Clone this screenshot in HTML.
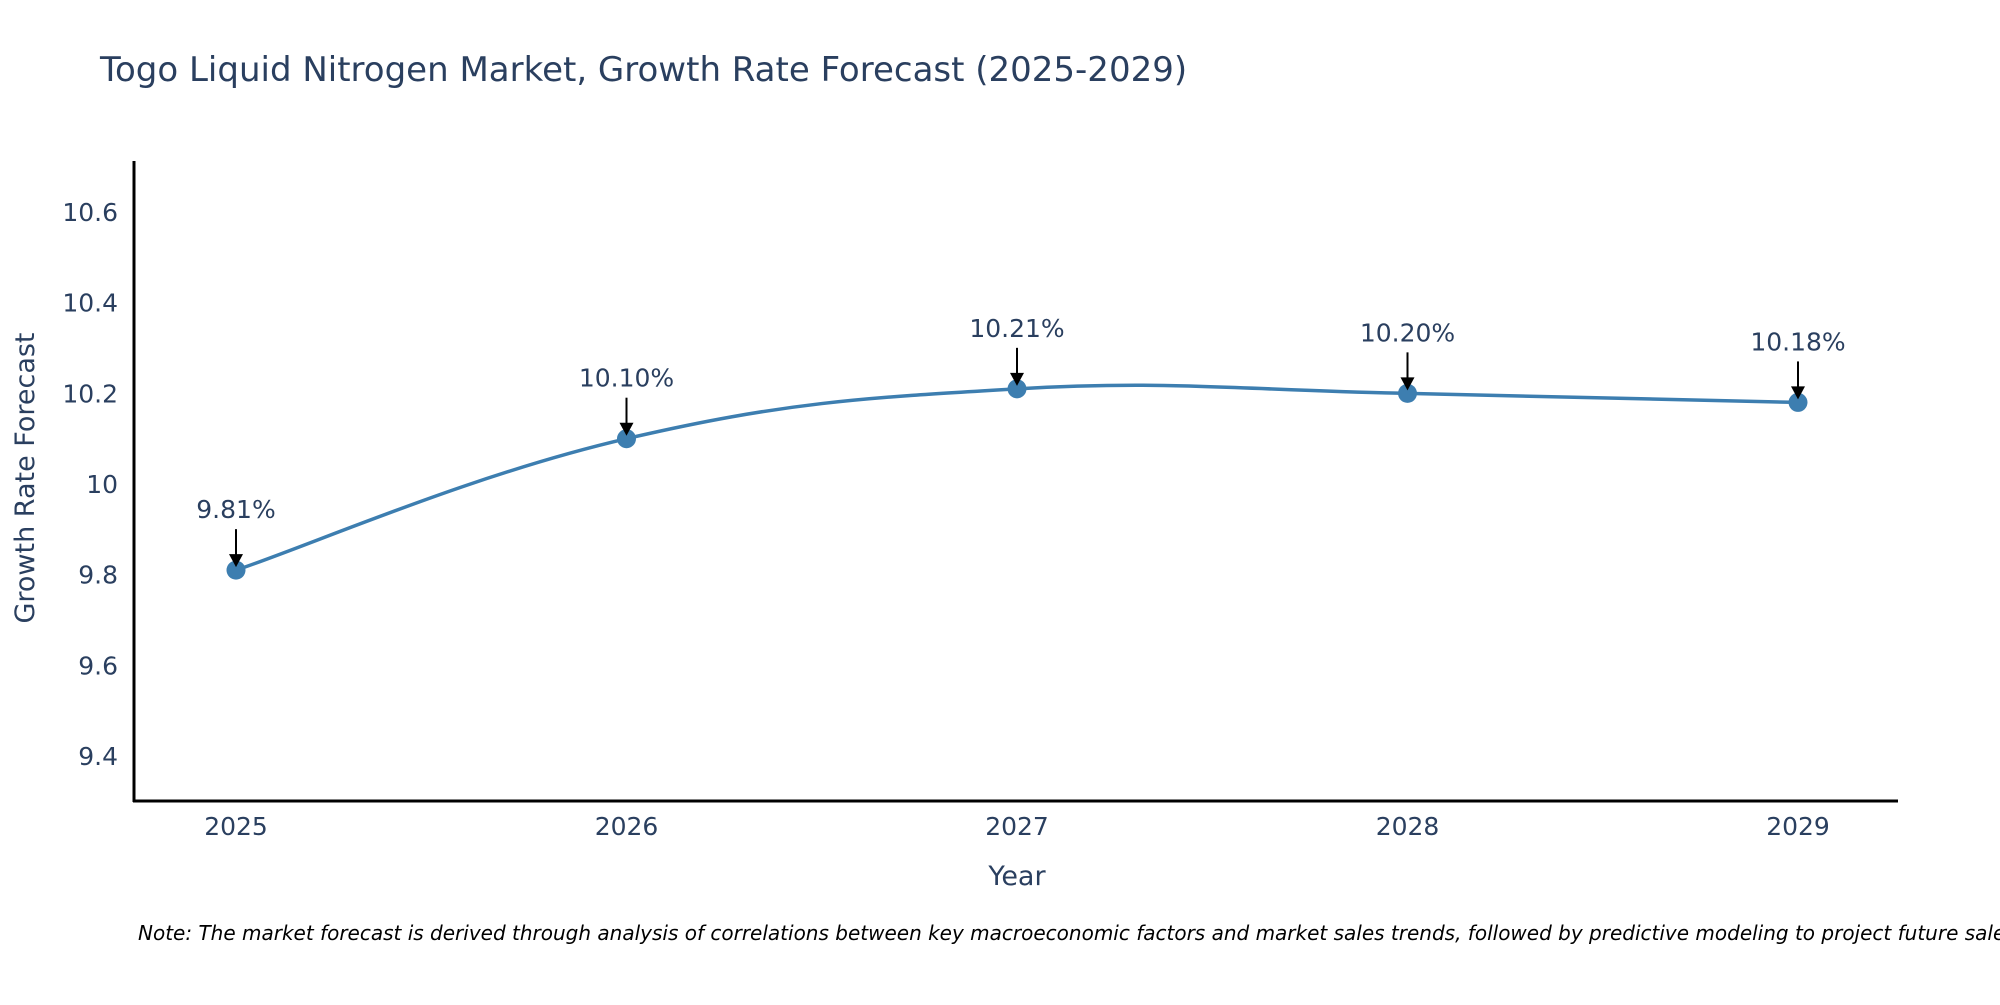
<!DOCTYPE html>
<html><head><meta charset="utf-8"><style>
body{margin:0;background:#fff;overflow:hidden;}
svg text{font-family:"DejaVu Sans","Liberation Sans",sans-serif;fill:#2a3f5f;}
</style></head><body>
<svg id="chart" width="2000" height="1000" xmlns="http://www.w3.org/2000/svg">
<text x="100" y="81" font-size="34">Togo Liquid Nitrogen Market, Growth Rate Forecast (2025-2029)</text>
<g id="yticks"></g>
<g id="xticks"></g>
<line x1="134" y1="161" x2="134" y2="802" stroke="#000" stroke-width="3"/>
<line x1="133" y1="801" x2="1898" y2="801" stroke="#000" stroke-width="3"/>
<text transform="translate(34,478) rotate(-90)" text-anchor="middle" font-size="27">Growth Rate Forecast</text>
<text x="1017" y="885" text-anchor="middle" font-size="27">Year</text>
<path id="line" fill="none" stroke="#3d7eb0" stroke-width="3.5"/>
<g id="points"></g>
<text x="138" y="940" font-size="20" font-style="italic" style="fill:#000">Note: The market forecast is derived through analysis of correlations between key macroeconomic factors and market sales trends, followed by predictive modeling to project future sales.</text>
</svg>
<script>
const years = [2025, 2026, 2027, 2028, 2029];
const values = [9.81, 10.10, 10.21, 10.20, 10.18];
const labels = ["9.81%", "10.10%", "10.21%", "10.20%", "10.18%"];
const yTicks = [9.4, 9.6, 9.8, 10, 10.2, 10.4, 10.6];
const yTickLabels = ["9.4", "9.6", "9.8", "10", "10.2", "10.4", "10.6"];

const NS = "http://www.w3.org/2000/svg";
function xs(v){ return 236 + (v - 2025) * 390.5; }
function ys(v){ return 756 - (v - 9.4) * 453.3; }
function mk(tag, attrs, parent){ const e=document.createElementNS(NS,tag); for(const k in attrs) e.setAttribute(k,attrs[k]); parent.appendChild(e); return e; }

const yg=document.getElementById('yticks');
yTicks.forEach((t,i)=>{
  const e=mk('text',{x:118,y:ys(t)+9,'text-anchor':'end','font-size':25},yg);
  
  
  e.textContent=yTickLabels[i];
});
const xg=document.getElementById('xticks');
years.forEach(y=>{
  const e=mk('text',{x:xs(y),y:835,'text-anchor':'middle','font-size':25},xg);
  
  
  e.textContent=y;
});

const pts=years.map((y,i)=>[xs(y),ys(values[i])]);
let d=`M${pts[0][0]},${pts[0][1]}`;
for(let i=0;i<pts.length-1;i++){
  const p0=pts[Math.max(0,i-1)],p1=pts[i],p2=pts[i+1],p3=pts[Math.min(pts.length-1,i+2)];
  const t=0.2;
  const c1=[p1[0]+(p2[0]-p0[0])*t,p1[1]+(p2[1]-p0[1])*t];
  const c2=[p2[0]-(p3[0]-p1[0])*t,p2[1]-(p3[1]-p1[1])*t];
  d+=` C${c1[0]},${c1[1]} ${c2[0]},${c2[1]} ${p2[0]},${p2[1]}`;
}
document.getElementById('line').setAttribute('d',d);

const pg=document.getElementById('points');
pts.forEach((p,i)=>{
  const c=mk('circle',{cx:p[0],cy:p[1],r:9.5,fill:'#3d7eb0'},pg);
  
  
  const a=mk('line',{x1:p[0],y1:p[1]-41,x2:p[0],y2:p[1]-14,stroke:'#000','stroke-width':2},pg);
  
  
  const h=mk('polygon',{points:`${p[0]-7},${p[1]-16} ${p[0]+7},${p[1]-16} ${p[0]},${p[1]-3}`,fill:'#000'},pg);
  
  
  const t=mk('text',{x:p[0],y:p[1]-52,'text-anchor':'middle','font-size':25},pg);
  
  
  t.textContent=labels[i];
});
</script>
</body></html>
